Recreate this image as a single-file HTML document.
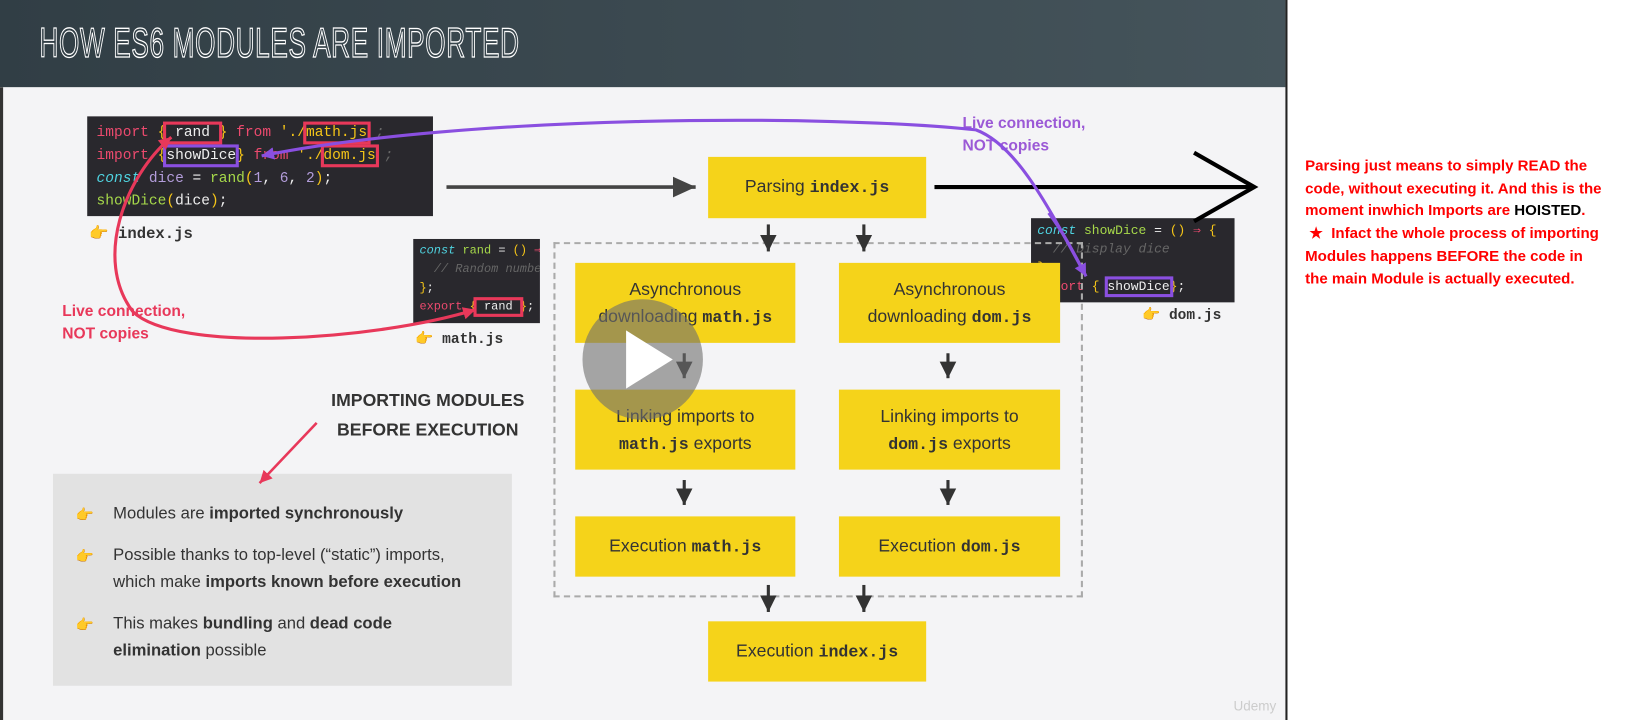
<!DOCTYPE html>
<html><head><meta charset="utf-8"><style>
*{margin:0;padding:0;box-sizing:border-box}
body{width:1628px;height:720px;overflow:hidden;background:#fff;font-family:"Liberation Sans",sans-serif}
#w{position:absolute;left:0;top:0;width:1568px;height:693px;transform:scale(1.0383,1.039);transform-origin:0 0}
.a{position:absolute}
.hd{left:0;top:0;width:1238px;height:84px;background:linear-gradient(90deg,#313e45,#45545b)}
.tt{left:38px;top:20px;font-family:"Liberation Sans Narrow","Liberation Sans",sans-serif;font-size:40px;color:transparent;-webkit-text-stroke:1.3px #fff;letter-spacing:1px;transform:scaleX(0.63);transform-origin:0 0;white-space:nowrap}
.sl{left:0;top:84px;width:1238px;height:609px;background:#f4f4f6;border-left:3px solid #333}
.dv{left:1238px;top:0;width:2px;height:693px;background:#222}
.code{background:#29282d;font-family:"Liberation Mono",monospace;font-size:14px;color:#eee;white-space:pre;line-height:22px;padding:5px 9px;overflow:hidden}
.k{color:#ec4a6e}.c{color:#4fd3e0;font-style:italic}.g{color:#a6d84a}.y{color:#f5c518}.p{color:#b39ddb}.m{color:#666;font-style:italic}
.bx{outline:3px solid #e8385a;outline-offset:0px}
.bp{outline:3px solid #8a4fe0;outline-offset:0px}
.yb{background:#f5d31a;text-align:center;font-size:17px;color:#333;line-height:26px}
.yb b{font-family:"Liberation Mono",monospace;font-weight:bold;font-size:16px}
.fn{font-family:"Liberation Mono",monospace;font-weight:bold;font-size:15px;color:#333}
.red{color:#e8385a;font-weight:bold;font-size:15px;line-height:22px}
.pur{color:#9b59d6;font-weight:bold;font-size:15px;line-height:22px}
.li{font-size:16px;color:#333;line-height:26px;padding-left:58px;padding-right:20px;position:relative;margin-bottom:14px}
.li:before{content:"👉";position:absolute;left:22px;top:0;font-size:14px;color:#f0a020}
.rt{left:1257px;top:150px;width:290px;color:#f00;font-weight:bold;font-size:14.5px;line-height:21.7px}
</style></head><body><div id="w">
<div class="a hd"></div>
<div class="a tt">HOW ES6 MODULES ARE IMPORTED</div>
<div class="a sl"></div>
<div class="a dv"></div>

<div class="a code" style="left:84px;top:112px;width:333px;height:96px"><span class="k">import</span> <span class="y">{</span><span class="bx"> rand </span><span class="y">}</span> <span class="k">from</span> <span class="y">'./</span><span class="bx y">math.js</span> <span class="m">;</span>
<span class="k">import</span> <span class="y">{</span><span class="bp">showDice</span><span class="y">}</span> <span class="k">from</span> <span class="y">'./</span><span class="bx y">dom.js</span> <span class="m">;</span>
<span class="c">const</span> <span class="p">dice</span> = <span class="g">rand</span><span class="y">(</span><span class="p">1</span>, <span class="p">6</span>, <span class="p">2</span><span class="y">)</span>;
<span class="g">showDice</span><span class="y">(</span>dice<span class="y">)</span>;</div>
<div class="a fn" style="left:86px;top:215px">👉 index.js</div>

<div class="a code" style="left:398px;top:230px;width:122px;height:81px;font-size:11.5px;line-height:18px;padding:3px 6px"><span class="c">const</span> <span class="g">rand</span> = <span class="y">()</span> <span class="k">⇒</span> <span class="y">{</span>
  <span class="m">// Random numbers</span>
<span class="y">}</span>;
<span class="k">export</span> <span class="y">{</span><span class="bx"> rand </span><span class="y">}</span>;</div>
<div class="a fn" style="left:400px;top:318px;font-size:14px">👉 math.js</div>

<div class="a code" style="left:993px;top:210px;width:196px;height:81px;font-size:12.5px;line-height:18px;padding:3px 6px"><span class="c">const</span> <span class="g">showDice</span> = <span class="y">()</span> <span class="k">⇒</span> <span class="y">{</span>
  <span class="m">// Display dice</span>
<span class="y">}</span>;
<span class="k">export</span> <span class="y">{</span> <span class="bp">showDice</span><span class="y">}</span>;</div>
<div class="a fn" style="left:1100px;top:295px;font-size:14px">👉 dom.js</div>

<div class="a yb" style="left:682px;top:151px;width:210px;height:59px;padding-top:16px">Parsing <b>index.js</b></div>
<div class="a" style="left:533px;top:233px;width:510px;height:342px;border:2px dashed #aaa"></div>
<div class="a yb" style="left:554px;top:253px;width:212px;height:77px;padding-top:13px">Asynchronous<br>downloading <b>math.js</b></div>
<div class="a yb" style="left:808px;top:253px;width:213px;height:77px;padding-top:13px">Asynchronous<br>downloading <b>dom.js</b></div>
<div class="a yb" style="left:554px;top:375px;width:212px;height:77px;padding-top:13px">Linking imports to<br><b>math.js</b> exports</div>
<div class="a yb" style="left:808px;top:375px;width:213px;height:77px;padding-top:13px">Linking imports to<br><b>dom.js</b> exports</div>
<div class="a yb" style="left:554px;top:497px;width:212px;height:58px;padding-top:16px">Execution <b>math.js</b></div>
<div class="a yb" style="left:808px;top:497px;width:213px;height:58px;padding-top:16px">Execution <b>dom.js</b></div>
<div class="a yb" style="left:682px;top:598px;width:210px;height:58px;padding-top:16px">Execution <b>index.js</b></div>

<div class="a red" style="left:60px;top:289px">Live connection,<br>NOT copies</div>
<div class="a pur" style="left:927px;top:108px">Live connection,<br>NOT copies</div>
<div class="a" style="left:300px;top:372px;width:224px;text-align:center;font-weight:bold;font-size:17px;line-height:28px;color:#333">IMPORTING MODULES<br>BEFORE EXECUTION</div>
<div class="a" style="left:51px;top:456px;width:442px;height:204px;background:#e2e2e2;padding-top:26px;padding-right:20px">
<div class="li">Modules are <b>imported synchronously</b></div>
<div class="li">Possible thanks to top-level (“static”) imports, which make <b>imports known before execution</b></div>
<div class="li">This makes <b>bundling</b> and <b>dead code elimination</b> possible</div>
</div>

<div class="a rt">Parsing just means to simply READ the code, without executing it. And this is the moment inwhich Imports are <span style="color:#000">HOISTED</span>.<br>&nbsp;★&nbsp; Infact the whole process of importing Modules happens BEFORE the code in the main Module is actually executed.</div>
<div class="a" style="left:1188px;top:672px;color:#ccc;font-size:13px">Udemy</div>

<svg class="a" style="left:0;top:0" width="1568" height="693">
<defs>
<marker id="ag" markerUnits="userSpaceOnUse" markerWidth="20" markerHeight="20" refX="16" refY="10" orient="auto"><path d="M0,2L16,10L0,18z" fill="#333"/></marker>
<marker id="ag2" markerUnits="userSpaceOnUse" markerWidth="24" markerHeight="24" refX="22" refY="12" orient="auto"><path d="M0,2L22,12L0,22z" fill="#444"/></marker>
<marker id="ar" markerUnits="userSpaceOnUse" markerWidth="14" markerHeight="14" refX="12" refY="7" orient="auto"><path d="M0,1L12,7L0,13z" fill="#e8385a"/></marker>
<marker id="ap" markerUnits="userSpaceOnUse" markerWidth="14" markerHeight="14" refX="12" refY="7" orient="auto"><path d="M0,1L12,7L0,13z" fill="#8a4fe0"/></marker>
</defs>
<line x1="430" y1="180" x2="670" y2="180" stroke="#444" stroke-width="3.5" marker-end="url(#ag2)"/>
<line x1="900" y1="180" x2="1208" y2="180" stroke="#000" stroke-width="4"/>
<polyline points="1150,147 1208,180 1150,213" fill="none" stroke="#000" stroke-width="4"/>
<g stroke="#333" stroke-width="3" marker-end="url(#ag)">
<line x1="740" y1="216" x2="740" y2="242"/><line x1="832" y1="216" x2="832" y2="242"/>
<line x1="659" y1="340" x2="659" y2="364"/><line x1="913" y1="340" x2="913" y2="364"/>
<line x1="659" y1="462" x2="659" y2="486"/><line x1="913" y1="462" x2="913" y2="486"/>
<line x1="740" y1="563" x2="740" y2="589"/><line x1="832" y1="563" x2="832" y2="589"/>
</g>
<path d="M128,300 C90,250 120,170 165,132" fill="none" stroke="#e8385a" stroke-width="3" marker-end="url(#ar)"/>
<path d="M128,300 C170,340 360,328 458,298" fill="none" stroke="#e8385a" stroke-width="3" marker-end="url(#ar)"/>
<path d="M1045,264 C1010,200 980,140 940,125 C800,110 450,110 252,150" fill="none" stroke="#8a4fe0" stroke-width="3" marker-end="url(#ap)"/>
<path d="M1010,205 C1025,225 1035,245 1046,266" fill="none" stroke="#8a4fe0" stroke-width="3" marker-end="url(#ap)"/>
<line x1="305" y1="407" x2="250" y2="465" stroke="#e8385a" stroke-width="2.5" marker-end="url(#ar)"/>
<circle cx="619" cy="346" r="58" fill="rgba(110,110,110,0.6)"/>
<path d="M603,318 L603,374 L648,346z" fill="#fff"/>
</svg>
</div></body></html>
